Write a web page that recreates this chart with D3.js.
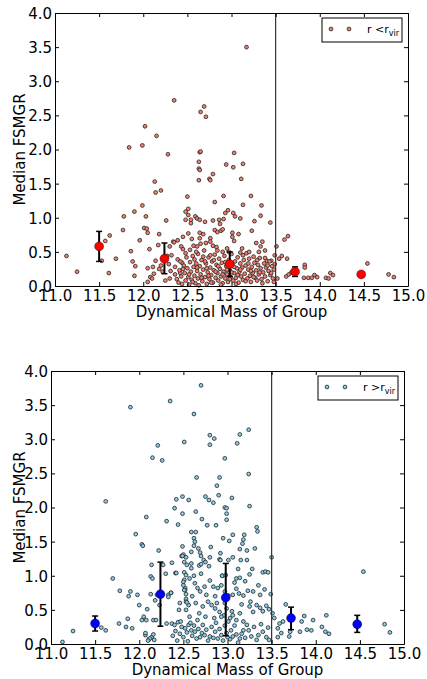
<!DOCTYPE html>
<html>
<head>
<meta charset="utf-8">
<script src="https://cdn.jsdelivr.net/npm/d3@7"></script>
<style>
body { margin: 0; background: #fff; }
svg { display: block; font-family: "DejaVu Sans", sans-serif; }
</style>
</head>
<body>
<svg width="427" height="679"></svg>
<script>
var xTicks = [11.0, 11.5, 12.0, 12.5, 13.0, 13.5, 14.0, 14.5, 15.0];
var yTicks = [0.0, 0.5, 1.0, 1.5, 2.0, 2.5, 3.0, 3.5, 4.0];
var virialCut = 13.5;

// binned medians with error bars
var binMass = [11.50, 12.24, 12.98, 13.72, 14.47];
var inMedian = [0.58, 0.40, 0.32, 0.21, 0.17];
var inLow = [0.36, 0.18, 0.14, 0.14, 0.15];
var inHigh = [0.80, 0.63, 0.50, 0.28, 0.19];
var outMedian = [0.30, 0.73, 0.68, 0.38, 0.29];
var outLow = [0.19, 0.26, 0.12, 0.21, 0.17];
var outHigh = [0.41, 1.20, 1.18, 0.54, 0.42];

// individual groups, r < r_vir  [mass, median FSMGR]
var inPoints = [
  [11.13,0.44],[11.25,0.21],[11.53,0.37],[11.57,0.66],[11.61,0.19],[11.62,0.74],[11.69,0.40],[11.77,0.82],
  [11.78,1.02],[11.84,2.03],[11.86,0.51],[11.88,0.36],[11.90,1.09],[11.90,0.15],[11.91,0.29],[11.96,0.67],
  [11.99,1.18],[11.99,2.06],[12.01,0.85],[12.02,2.34],[12.03,1.02],[12.04,0.84],[12.05,0.78],[12.05,0.26],
  [12.07,0.54],[12.08,0.13],[12.10,0.11],[12.11,0.28],[12.13,1.53],[12.14,1.37],[12.14,0.37],[12.15,2.20],
  [12.17,0.60],[12.18,0.76],[12.18,0.25],[12.20,1.40],[12.22,0.21],[12.26,0.96],[12.27,0.44],[12.28,1.93],
  [12.29,0.32],[12.30,0.58],[12.30,0.11],[12.31,0.22],[12.34,0.65],[12.35,2.72],[12.35,0.64],[12.39,0.67],
  [12.39,0.39],[12.42,0.19],[12.43,0.58],[12.44,0.34],[12.45,0.54],[12.45,0.72],[12.48,0.97],[12.48,1.09],
  [12.50,1.31],[12.51,1.13],[12.51,1.04],[12.51,0.77],[12.54,0.97],[12.54,0.92],[12.53,0.53],[12.55,0.69],
  [12.57,0.59],[12.59,1.02],[12.61,0.99],[12.61,0.58],[12.63,1.82],[12.63,1.72],[12.63,1.55],[12.64,1.96],
  [12.64,1.70],[12.64,0.97],[12.64,0.78],[12.64,0.70],[12.65,2.55],[12.65,1.97],[12.65,0.62],[12.68,0.76],
  [12.69,2.63],[12.70,0.94],[12.71,2.48],[12.71,0.63],[12.75,1.57],[12.76,1.55],[12.76,0.70],[12.76,0.65],
  [12.79,1.64],[12.79,0.96],[12.79,0.59],[12.81,1.23],[12.81,0.82],[12.83,0.57],[12.84,0.79],[12.86,0.97],
  [12.87,0.91],[12.88,0.81],[12.90,0.83],[12.90,0.50],[12.91,1.32],[12.91,0.98],[12.93,1.07],[12.94,1.78],
  [12.95,0.55],[12.96,1.11],[13.01,0.78],[13.01,0.72],[13.02,1.74],[13.02,1.07],[13.03,1.95],[13.03,0.66],
  [13.04,1.02],[13.08,0.76],[13.10,0.99],[13.10,0.49],[13.11,1.57],[13.13,1.79],[13.13,1.19],[13.17,3.50],
  [13.17,0.48],[13.22,1.32],[13.23,0.81],[13.25,0.43],[13.26,0.95],[13.28,0.63],[13.31,0.50],[13.33,1.03],
  [13.33,0.58],[13.34,1.18],[13.35,0.65],[13.40,0.37],[13.44,0.93],[13.45,0.37],[13.49,0.32],[13.51,0.58],
  [13.52,0.11],[13.54,0.40],[13.57,0.44],[13.60,0.68],[13.62,0.14],[13.63,0.40],[13.64,0.73],[13.65,0.17],
  [13.68,0.20],[13.83,0.31],[13.83,0.27],[13.82,0.12],[13.87,0.12],[13.91,0.12],[13.94,0.16],[13.97,0.13],
  [14.07,0.12],[14.10,0.11],[14.12,0.19],[14.15,0.16],[14.54,0.33],[14.78,0.17],[14.84,0.13],
  [12.36,0.28],[12.38,0.10],[12.40,0.05],[12.41,0.23],[12.43,0.14],[12.44,0.03],[12.46,0.30],[12.47,0.19],
  [12.48,0.08],[12.49,0.42],[12.50,0.26],[12.51,0.13],[12.52,0.02],[12.53,0.35],[12.54,0.21],[12.55,0.09],
  [12.56,0.44],[12.57,0.28],[12.58,0.15],[12.59,0.04],[12.60,0.33],[12.61,0.22],[12.62,0.11],[12.62,0.47],
  [12.63,0.01],[12.64,0.29],[12.65,0.17],[12.66,0.38],[12.67,0.07],[12.68,0.24],[12.69,0.52],[12.70,0.13],
  [12.71,0.33],[12.72,0.03],[12.73,0.20],[12.74,0.42],[12.75,0.10],[12.76,0.27],[12.77,0.16],[12.78,0.36],
  [12.79,0.05],[12.80,0.23],[12.81,0.46],[12.82,0.12],[12.83,0.31],[12.84,0.19],[12.85,0.08],[12.86,0.40],
  [12.87,0.25],[12.88,0.14],[12.89,0.34],[12.90,0.04],[12.91,0.21],[12.92,0.44],[12.93,0.11],[12.94,0.29],
  [12.95,0.17],[12.96,0.06],[12.97,0.38],[12.98,0.23],[12.99,0.13],[13.00,0.47],[13.01,0.30],[13.02,0.08],
  [13.03,0.19],[13.04,0.36],[13.05,0.12],[13.06,0.26],[13.07,0.42],[13.08,0.05],[13.09,0.21],[13.10,0.33],
  [13.11,0.14],[13.12,0.27],[13.13,0.09],[13.14,0.38],[13.15,0.18],[13.16,0.30],[13.18,0.11],[13.19,0.24],
  [13.20,0.40],[13.21,0.15],[13.22,0.06],[13.23,0.28],[13.24,0.19],[13.26,0.34],[13.27,0.12],[13.28,0.23],
  [13.29,0.08],[13.30,0.31],[13.31,0.17],[13.32,0.41],[13.33,0.26],[13.34,0.10],[13.36,0.20],[13.37,0.33],
  [13.38,0.14],[13.39,0.27],[13.41,0.07],[13.42,0.22],[13.43,0.36],[13.44,0.16],[13.46,0.29],[13.47,0.11],
  [13.48,0.24],[13.49,0.45],
  [12.42,0.36],[12.45,0.25],[12.52,0.17],[12.56,0.06],[12.58,0.39],[12.61,0.27],[12.66,0.12],[12.68,0.43],
  [12.72,0.26],[12.74,0.15],[12.77,0.05],[12.80,0.38],[12.82,0.21],[12.85,0.29],[12.88,0.02],[12.90,0.17],
  [12.93,0.35],[12.95,0.24],[12.98,0.10],[13.00,0.20],[13.03,0.28],[13.05,0.03],[13.07,0.16],[13.10,0.24],
  [13.13,0.45],[13.16,0.07],[13.19,0.33],[13.22,0.22],[13.25,0.13],[13.29,0.38],[13.32,0.20],[13.35,0.04],
  [13.38,0.41],[13.41,0.30],[13.45,0.19],[13.48,0.06],[12.70,0.36],[12.84,0.52],[12.97,0.50],[13.12,0.55],
  [12.60,0.50],[12.48,0.48],[13.20,0.50],[13.38,0.52],[12.76,0.45],
  [12.05,0.06],[12.12,0.18],[12.20,0.30],[12.25,0.08],[12.32,0.45],[12.36,0.17]
];

// individual groups, r > r_vir  [mass, median FSMGR]
var outPoints = [
  [11.13,0.03],[11.25,0.19],[11.57,0.24],[11.62,0.20],[11.62,2.09],[11.70,0.96],[11.77,0.30],[11.78,0.78],
  [11.85,0.25],[11.87,0.37],[11.88,0.70],[11.90,0.77],[11.90,3.47],[11.92,0.23],[11.96,1.61],[11.98,0.72],
  [12.00,0.57],[12.03,1.46],[12.04,1.44],[12.03,0.35],[12.05,0.40],[12.07,0.13],[12.08,1.86],[12.08,0.35],
  [12.09,0.51],[12.11,0.07],[12.13,0.99],[12.13,0.73],[12.14,1.16],[12.14,0.10],[12.15,2.73],[12.15,0.96],
  [12.16,0.35],[12.16,0.14],[12.17,0.06],[12.18,0.64],[12.19,0.35],[12.20,0.72],[12.21,2.91],[12.22,1.37],
  [12.23,0.57],[12.26,2.69],[12.27,1.16],[12.31,1.80],[12.31,0.30],[12.33,0.72],[12.35,3.56],[12.36,0.75],
  [12.40,1.99],[12.42,2.12],[12.41,1.04],[12.44,1.75],[12.49,2.16],[12.49,1.91],[12.49,1.43],[12.48,1.29],
  [12.50,1.31],[12.51,2.96],[12.51,1.20],[12.51,1.05],[12.53,1.01],[12.51,0.94],[12.52,0.82],[12.52,0.79],
  [12.53,0.66],[12.53,0.62],[12.56,0.57],[12.53,0.50],[12.53,1.27],[12.54,1.16],[12.56,2.11],[12.59,1.64],
  [12.59,1.35],[12.59,1.18],[12.59,1.11],[12.62,3.37],[12.62,1.55],[12.63,1.50],[12.62,1.44],[12.64,1.64],
  [12.64,1.94],[12.65,2.44],[12.67,1.40],[12.69,1.34],[12.70,3.79],[12.70,1.29],[12.68,1.15],[12.71,1.83],
  [12.73,1.23],[12.75,2.16],[12.77,1.74],[12.79,2.11],[12.80,3.06],[12.80,2.92],[12.80,1.27],[12.81,1.42],
  [12.84,2.07],[12.85,3.01],[12.87,1.74],[12.88,2.32],[12.90,2.18],[12.91,2.44],[12.91,1.24],[12.92,1.33],
  [12.94,1.00],[12.95,1.55],[12.97,2.72],[12.97,2.00],[12.99,1.99],[12.99,1.91],[12.99,1.82],[13.02,1.51],
  [13.05,2.14],[13.06,1.60],[13.06,1.27],[13.10,0.96],[13.11,2.94],[13.14,3.07],[13.14,1.39],[13.14,0.97],
  [13.15,1.23],[13.17,1.47],[13.18,1.53],[13.19,1.60],[13.22,1.37],[13.22,1.23],[13.24,3.14],[13.24,2.49],
  [13.25,2.02],[13.25,1.02],[13.31,1.40],[13.33,1.71],[13.34,1.65],[13.40,1.05],[13.43,1.06],[13.46,1.05],
  [13.50,1.27],[13.49,0.73],[13.53,0.38],[13.57,0.23],[13.57,0.10],[13.59,0.30],[13.61,0.16],[13.63,0.33],
  [13.66,0.58],[13.70,0.11],[13.71,0.18],[13.82,0.18],[13.84,0.33],[13.87,0.41],[13.90,0.21],[13.95,0.20],
  [13.97,0.35],[14.07,0.25],[14.11,0.18],[14.12,0.42],[14.15,0.15],[14.54,1.06],[14.78,0.29],[14.84,0.17],
  [12.50,0.91],[12.50,0.86],[12.51,0.79],[12.53,0.73],[12.54,0.61],[12.57,0.96],[12.63,0.89],[12.66,0.82],
  [12.69,0.77],[12.74,0.84],[12.76,0.72],[12.84,0.84],[12.89,0.82],[12.93,0.86],[12.97,0.77],[13.01,0.71],
  [13.06,0.72],[13.10,0.81],[13.13,0.74],[13.18,0.71],[13.23,0.78],[13.29,0.77],[13.37,0.72],[13.25,0.55],
  [13.29,0.47],[13.33,0.57],[13.37,0.53],[13.40,0.48],[13.44,0.56],[13.47,0.51],[13.51,0.45],[12.78,0.62],
  [12.82,0.57],[12.86,0.52],[12.88,0.60],[12.91,0.47],[12.96,0.42],[12.99,0.52],[13.03,0.38],[13.06,0.42],
  [13.10,0.35],[13.14,0.45],[13.18,0.33],[13.22,0.28],
  [12.37,0.30],[12.40,0.28],[12.44,0.32],[12.48,0.25],[12.52,0.23],[12.56,0.28],[12.59,0.20],[12.63,0.18],
  [12.67,0.22],[12.71,0.16],[12.74,0.13],[12.80,0.11],[12.86,0.18],[12.89,0.08],[12.93,0.13],[12.99,0.16],
  [13.03,0.07],[13.06,0.11],[13.10,0.14],[13.14,0.08],[13.18,0.20],[13.27,0.11],[13.33,0.06],[13.40,0.18],
  [13.47,0.06],[12.12,0.08],[12.07,0.16],[12.10,0.05],
  [12.30,1.03],[12.37,1.19],[12.42,1.04],[12.49,1.29],[12.70,1.17],[12.75,1.20],[12.79,1.14],[12.92,1.23],
  [13.01,1.23],[12.94,1.00],[12.98,1.01],[12.36,0.75],[12.33,0.69],
  [12.38,0.12],[12.41,0.19],[12.43,0.05],[12.46,0.15],[12.47,0.33],[12.50,0.10],[12.54,0.17],[12.55,0.04],
  [12.58,0.31],[12.60,0.12],[12.62,0.27],[12.65,0.08],[12.66,0.35],[12.69,0.10],[12.72,0.28],[12.76,0.21],
  [12.78,0.05],[12.82,0.25],[12.84,0.09],[12.87,0.31],[12.91,0.22],[12.95,0.05],[12.97,0.27],[13.00,0.10],
  [13.01,0.33],[13.04,0.20],[13.08,0.27],[13.12,0.02],[13.16,0.15],[13.20,0.09],[13.24,0.20],[13.30,0.25],
  [13.35,0.13],[13.38,0.29],[13.44,0.10],[13.46,0.24],[12.93,0.40],[12.85,0.38],[13.05,0.48],[12.75,0.40],
  [12.68,0.45],[12.57,0.40],[12.45,0.50],[12.64,0.60],[12.72,0.55],[13.16,0.58],[13.26,0.62],[12.97,0.60],
  [12.60,0.70],[12.80,0.93],[12.86,0.70],[13.08,0.90],[13.20,0.92],[13.35,0.86],[13.42,0.80],[12.46,0.60],
  [12.70,1.03],[13.28,1.10],[13.12,1.10],[12.62,1.00]
];

var svg = d3.select("svg");

function drawPanel(p) {
    var x = d3.scaleLinear().domain([11, 15]).range([p.left, p.right]);
    var y = d3.scaleLinear().domain([0, 4]).range([p.bottom, p.top]);
    var g = svg.append("g");

    // scatter of individual groups
    g.selectAll("circle.dot")
        .data(p.points)
        .enter()
        .append("circle")
        .attr("class", "dot")
        .attr("cx", function(d) { return x(d[0]); })
        .attr("cy", function(d) { return y(d[1]); })
        .attr("r", 1.9)
        .attr("fill", p.dotColor)
        .attr("stroke", "#222")
        .attr("stroke-width", 0.8);

    // virial mass cut
    g.append("line")
        .attr("x1", x(virialCut)).attr("x2", x(virialCut))
        .attr("y1", p.top).attr("y2", p.bottom)
        .attr("stroke", "#333")
        .attr("stroke-width", 1.2);

    // error bars
    var bins = binMass.map(function(m, i) {
        return { m: m, med: p.median[i], lo: p.low[i], hi: p.high[i] };
    });
    var eb = g.selectAll("g.err").data(bins).enter().append("g").attr("class", "err");
    eb.append("line")
        .attr("x1", function(d) { return x(d.m); }).attr("x2", function(d) { return x(d.m); })
        .attr("y1", function(d) { return y(d.lo); }).attr("y2", function(d) { return y(d.hi); })
        .attr("stroke", "#000").attr("stroke-width", 2);
    eb.append("line")
        .attr("x1", function(d) { return x(d.m) - 3; }).attr("x2", function(d) { return x(d.m) + 3; })
        .attr("y1", function(d) { return y(d.lo); }).attr("y2", function(d) { return y(d.lo); })
        .attr("stroke", "#000").attr("stroke-width", 1.5);
    eb.append("line")
        .attr("x1", function(d) { return x(d.m) - 3; }).attr("x2", function(d) { return x(d.m) + 3; })
        .attr("y1", function(d) { return y(d.hi); }).attr("y2", function(d) { return y(d.hi); })
        .attr("stroke", "#000").attr("stroke-width", 1.5);
    eb.append("circle")
        .attr("cx", function(d) { return x(d.m); })
        .attr("cy", function(d) { return y(d.med); })
        .attr("r", 4.5)
        .attr("fill", p.bigColor)
        .attr("stroke", "#000")
        .attr("stroke-width", 0.4);

    // axes, ticks pointing inward on all four sides
    var fmt = d3.format(".1f");
    var ax = [
        g.append("g").attr("transform", "translate(0," + p.bottom + ")")
            .call(d3.axisBottom(x).tickValues(xTicks).tickFormat(fmt).tickSizeInner(-4).tickSizeOuter(0).tickPadding(4)),
        g.append("g").attr("transform", "translate(" + p.left + ",0)")
            .call(d3.axisLeft(y).tickValues(yTicks).tickFormat(fmt).tickSizeInner(-4).tickSizeOuter(0).tickPadding(3)),
        g.append("g").attr("transform", "translate(0," + p.top + ")")
            .call(d3.axisTop(x).tickValues(xTicks).tickFormat("").tickSizeInner(-4).tickSizeOuter(0)),
        g.append("g").attr("transform", "translate(" + p.right + ",0)")
            .call(d3.axisRight(y).tickValues(yTicks).tickFormat("").tickSizeInner(-4).tickSizeOuter(0))
    ];
    ax.forEach(function(a) {
        a.attr("font-family", "DejaVu Sans").attr("font-size", 15);
        a.selectAll("path, line").attr("stroke", "#000");
        a.selectAll("text").attr("fill", "#000");
    });
    ax[1].selectAll("text").attr("dy", "0.36em");

    // axis titles
    g.append("text")
        .attr("x", (p.left + p.right) / 2)
        .attr("y", p.bottom + 31)
        .attr("text-anchor", "middle")
        .attr("font-size", 15)
        .text("Dynamical Mass of Group");
    g.append("text")
        .attr("transform", "translate(25," + (p.top + p.bottom) / 2 + ") rotate(-90)")
        .attr("text-anchor", "middle")
        .attr("font-size", 15)
        .text("Median FSMGR");

    // legend
    var lx = p.right - 86, ly = p.top + 5;
    g.append("rect")
        .attr("x", lx).attr("y", ly)
        .attr("width", 80).attr("height", 24)
        .attr("fill", "#fff").attr("stroke", "#000").attr("stroke-width", 1);
    [9, 27].forEach(function(dx) {
        g.append("circle")
            .attr("cx", lx + dx).attr("cy", ly + 11)
            .attr("r", 1.9)
            .attr("fill", p.dotColor).attr("stroke", "#222").attr("stroke-width", 0.8);
    });
    var lt = g.append("text")
        .attr("x", lx + 45).attr("y", ly + 15)
        .attr("font-size", 11);
    lt.append("tspan").text("r " + p.sign + "r");
    lt.append("tspan").attr("dy", 3).attr("font-size", 8).text("vir");
}

drawPanel({ left: 55, right: 408, top: 13, bottom: 286, points: inPoints,
    median: inMedian, low: inLow, high: inHigh,
    dotColor: "#f4806f", bigColor: "#ff0000", sign: "<" });
drawPanel({ left: 51, right: 404, top: 371, bottom: 644, points: outPoints,
    median: outMedian, low: outLow, high: outHigh,
    dotColor: "#87ceeb", bigColor: "#0000ff", sign: ">" });
</script>
</body>
</html>
